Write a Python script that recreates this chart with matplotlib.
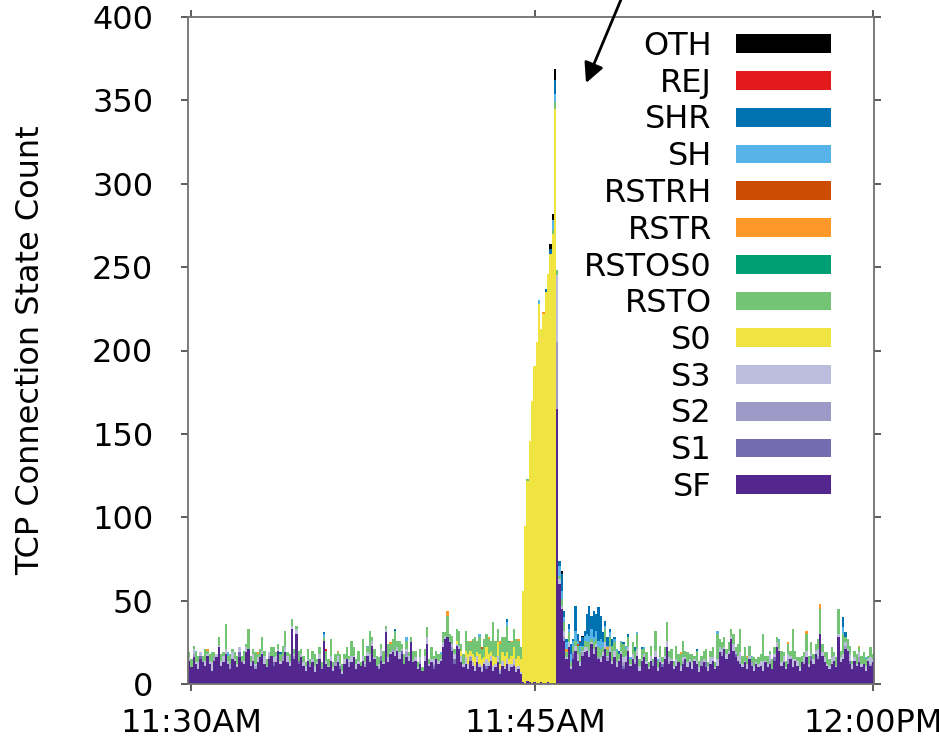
import matplotlib.pyplot as plt
from matplotlib.patches import Patch

# one bar per 6 s sample, 300 samples from 11:30 to 12:00
# rows: 0-49 | 50-99 | 100-145 | 146-160 (spike) | 161-199 | 200-249 | 250-299
sf = [14, 10, 16, 12, 9, 15, 13, 11, 17, 12, 8, 14, 16, 22, 11, 13, 18, 12, 9, 15, 14, 10, 16, 13, 12, 19, 21, 11, 14, 9, 13, 16, 18, 12, 10, 15, 17, 11, 13, 20, 12, 14, 19, 13, 11, 33, 15, 30, 12, 16,
      11, 8, 14, 10, 13, 7, 12, 15, 9, 26, 12, 10, 14, 8, 11, 13, 9, 6, 12, 15, 10, 13, 16, 9, 12, 11, 14, 10, 17, 13, 23, 15, 11, 9, 14, 12, 31, 13, 18, 19, 17, 20, 15, 18, 12, 16, 14, 25, 13, 14,
      9, 12, 8, 14, 24, 11, 13, 9, 15, 12, 14, 22, 27, 28, 25, 20, 12, 23, 21, 13, 10, 12, 9, 14, 11, 8, 13, 10, 7, 12, 9, 11, 14, 8, 10, 13, 6, 11, 9, 12, 8, 10, 11, 7, 9, 6,
      1, 0, 2, 1, 0, 1, 0, 0, 1, 0, 0, 1, 0, 0, 0,
      165, 60, 45, 26, 15, 22, 9, 15, 20, 14, 11, 17, 19, 20, 16, 24, 18, 22, 15, 13, 17, 21, 14, 19, 12, 16, 10, 14, 18, 9, 13, 20, 11, 15, 12, 17, 8, 14, 16,
      12, 9, 14, 11, 16, 8, 13, 10, 15, 22, 12, 14, 9, 11, 13, 8, 12, 15, 10, 13, 9, 14, 12, 7, 11, 13, 10, 8, 12, 14, 9, 11, 19, 17, 21, 15, 18, 27, 20, 16, 14, 12, 10, 13, 9, 15, 11, 8, 12, 10,
      11, 8, 13, 10, 12, 9, 14, 22, 20, 11, 13, 9, 12, 15, 10, 14, 11, 8, 13, 12, 16, 10, 14, 12, 18, 15, 30, 17, 13, 11, 9, 12, 14, 10, 28, 13, 15, 21, 20, 12, 9, 14, 11, 13, 10, 12, 8, 14, 11, 13]

s1 = [0, 0, 0, 0, 0, 2, 0, 0, 0, 0, 0, 0, 0, 0, 0, 0, 0, 0, 0, 0, 0, 0, 3, 0, 0, 0, 0, 0, 0, 0, 0, 0, 0, 0, 0, 0, 0, 2, 0, 0, 0, 0, 0, 0, 0, 0, 0, 0, 2, 0,
      0, 0, 0, 0, 0, 0, 0, 0, 0, 0, 0, 0, 0, 0, 0, 0, 2, 0, 0, 0, 0, 0, 0, 0, 0, 0, 0, 0, 0, 0, 0, 0, 0, 0, 3, 0, 0, 0, 0, 0, 0, 0, 0, 2, 0, 0, 0, 0, 0, 0,
      0, 0, 0, 0, 0, 0, 0, 2, 0, 0, 0, 0, 0, 0, 0, 0, 3, 0, 0, 0, 0, 0, 0, 0, 0, 0, 0, 0, 0, 0, 2, 0, 0, 0, 0, 0, 0, 0, 0, 0, 0, 0, 0, 0, 0, 0,
      0, 0, 0, 0, 0, 0, 0, 0, 0, 0, 0, 0, 0, 0, 0,
      0, 0, 0, 0, 0, 0, 0, 3, 0, 0, 0, 0, 0, 0, 0, 0, 0, 0, 0, 0, 0, 0, 0, 0, 0, 0, 0, 0, 0, 2, 0, 0, 0, 0, 0, 0, 0, 0, 0,
      0, 0, 0, 0, 0, 0, 0, 2, 0, 0, 0, 0, 0, 0, 0, 0, 0, 0, 0, 0, 0, 0, 0, 0, 0, 0, 3, 0, 0, 0, 0, 0, 0, 0, 0, 0, 0, 0, 0, 2, 0, 0, 0, 0, 0, 0, 0, 0, 0, 0,
      0, 0, 0, 0, 0, 0, 2, 0, 0, 0, 0, 0, 0, 0, 0, 0, 0, 0, 0, 0, 0, 0, 3, 0, 0, 0, 0, 0, 0, 0, 0, 0, 0, 0, 0, 0, 0, 0, 0, 2, 0, 0, 0, 0, 0, 0, 0, 0, 0, 0]

s2 = [0, 0, 2, 0, 0, 0, 1, 0, 0, 0, 0, 2, 0, 0, 0, 0, 0, 0, 3, 0, 0, 0, 0, 1, 0, 0, 0, 0, 0, 2, 0, 0, 0, 0, 0, 2, 0, 0, 0, 0, 0, 3, 0, 0, 0, 0, 2, 0, 0, 0,
      0, 0, 0, 2, 0, 0, 0, 0, 1, 0, 0, 0, 0, 0, 2, 0, 0, 0, 0, 0, 3, 0, 0, 0, 0, 0, 0, 2, 0, 0, 0, 0, 0, 1, 0, 0, 0, 0, 0, 2, 0, 0, 0, 0, 0, 3, 0, 0, 0, 0,
      0, 2, 0, 0, 0, 0, 0, 1, 0, 0, 0, 0, 0, 0, 0, 2, 0, 0, 0, 0, 0, 0, 0, 2, 0, 0, 0, 0, 1, 0, 0, 0, 0, 0, 0, 0, 2, 0, 0, 0, 0, 0, 1, 0, 0, 0,
      0, 0, 0, 0, 0, 0, 0, 0, 0, 0, 0, 0, 0, 0, 0,
      40, 0, 0, 2, 0, 0, 0, 1, 0, 0, 0, 2, 0, 0, 0, 0, 0, 0, 1, 0, 0, 0, 2, 0, 0, 0, 0, 0, 0, 2, 0, 0, 0, 0, 1, 0, 0, 0, 0,
      0, 0, 0, 2, 0, 0, 0, 0, 0, 0, 1, 0, 0, 0, 0, 0, 2, 0, 0, 0, 0, 0, 0, 0, 3, 0, 0, 0, 0, 0, 0, 0, 0, 2, 0, 0, 0, 0, 0, 0, 0, 1, 0, 0, 0, 0, 2, 0, 0, 0,
      0, 0, 0, 0, 2, 0, 0, 0, 0, 0, 0, 0, 3, 0, 0, 0, 0, 0, 0, 1, 0, 0, 0, 0, 0, 2, 0, 0, 0, 0, 0, 0, 0, 0, 0, 0, 0, 2, 0, 0, 0, 0, 0, 3, 0, 0, 0, 0, 1, 0]

s3 = [2, 0, 3, 1, 4, 2, 0, 3, 1, 2, 5, 0, 2, 1, 3, 4, 3, 2, 0, 4, 1, 2, 3, 0, 2, 3, 0, 2, 4, 1, 3, 0, 2, 5, 1, 2, 0, 3, 4, 1, 2, 0, 3, 4, 2, 2, 1, 3, 0, 2,
      2, 3, 1, 0, 2, 4, 1, 3, 0, 0, 2, 1, 3, 2, 0, 4, 1, 2, 3, 0, 2, 4, 1, 3, 2, 0, 3, 1, 2, 5, 3, 1, 0, 2, 4, 1, 2, 3, 1, 0, 3, 2, 4, 1, 0, 2, 3, 0, 1, 2,
      1, 2, 0, 3, 4, 1, 2, 3, 0, 2, 1, 3, 2, 0, 1, 2, 3, 1, 2, 4, 2, 4, 3, 1, 2, 3, 4, 2, 3, 1, 4, 2, 3, 3, 2, 4, 1, 3, 2, 3, 4, 2, 3, 3, 2, 1,
      0, 0, 0, 0, 0, 0, 0, 0, 0, 0, 0, 0, 0, 0, 0,
      40, 3, 2, 4, 1, 3, 2, 0, 3, 4, 2, 1, 3, 2, 4, 1, 3, 2, 0, 3, 2, 4, 1, 3, 2, 4, 3, 1, 2, 3, 4, 2, 1, 3, 2, 4, 3, 1, 2,
      2, 1, 3, 0, 4, 2, 3, 1, 2, 4, 3, 1, 2, 4, 0, 3, 2, 1, 3, 2, 4, 1, 2, 3, 0, 2, 1, 3, 4, 2, 1, 4, 3, 2, 1, 3, 2, 2, 4, 1, 3, 6, 2, 1, 3, 2, 0, 3, 1, 2,
      3, 6, 1, 2, 4, 0, 2, 3, 1, 2, 4, 1, 3, 2, 5, 1, 3, 2, 0, 3, 4, 2, 1, 3, 2, 4, 0, 2, 3, 1, 2, 4, 3, 1, 2, 3, 3, 2, 1, 4, 3, 2, 1, 3, 2, 0, 3, 1, 4, 2]

s0 = [0, 0, 0, 0, 0, 0, 0, 0, 0, 0, 0, 0, 0, 0, 0, 0, 0, 0, 0, 0, 0, 0, 0, 0, 0, 0, 0, 0, 0, 0, 0, 0, 0, 0, 0, 0, 0, 0, 0, 0, 0, 0, 0, 0, 0, 0, 0, 0, 0, 0,
      0, 0, 0, 0, 0, 0, 0, 0, 0, 0, 0, 0, 0, 0, 0, 0, 0, 0, 0, 0, 0, 0, 0, 0, 0, 0, 0, 0, 0, 0, 0, 0, 0, 0, 0, 0, 0, 0, 0, 0, 0, 0, 0, 0, 0, 0, 0, 0, 0, 0,
      0, 0, 0, 0, 0, 0, 0, 0, 0, 0, 0, 0, 0, 0, 0, 0, 0, 2, 0, 3, 0, 4, 6, 3, 5, 5, 2, 6, 4, 3, 7, 5, 2, 6, 4, 8, 3, 5, 6, 4, 3, 5, 7, 5, 6, 8,
      55, 95, 120, 145, 170, 190, 205, 228, 212, 222, 235, 245, 258, 270, 345,
      0, 0, 0, 0, 0, 0, 0, 0, 0, 0, 0, 0, 0, 0, 0, 0, 0, 0, 0, 0, 0, 0, 0, 0, 0, 0, 0, 0, 0, 0, 0, 0, 0, 0, 0, 0, 0, 0, 0,
      0, 0, 0, 0, 0, 0, 0, 0, 0, 0, 0, 0, 0, 0, 0, 0, 0, 0, 0, 0, 0, 0, 0, 0, 0, 0, 0, 0, 0, 0, 0, 0, 0, 0, 0, 0, 0, 0, 0, 0, 0, 0, 0, 0, 0, 0, 0, 0, 0, 0,
      0, 0, 0, 0, 0, 0, 0, 0, 0, 0, 0, 0, 0, 0, 0, 0, 0, 0, 0, 0, 0, 0, 0, 0, 0, 0, 0, 0, 0, 0, 0, 0, 0, 0, 0, 0, 0, 0, 0, 0, 0, 0, 0, 0, 0, 0, 0, 0, 0, 0]

rsto = [3, 5, 2, 6, 4, 0, 3, 7, 2, 4, 6, 3, 0, 5, 4, 2, 15, 3, 6, 2, 4, 5, 0, 3, 6, 2, 12, 4, 3, 7, 2, 5, 8, 3, 4, 0, 5, 6, 2, 3, 4, 6, 10, 2, 5, 4, 3, 2, 6, 3,
        4, 2, 6, 3, 5, 7, 2, 4, 3, 2, 6, 4, 10, 3, 5, 2, 6, 4, 3, 7, 2, 9, 5, 3, 6, 2, 10, 4, 3, 14, 2, 5, 6, 4, 3, 7, 2, 8, 5, 6, 12, 4, 7, 3, 6, 5, 2, 3, 6, 4,
        3, 5, 2, 4, 6, 3, 7, 2, 5, 4, 3, 6, 2, 13, 4, 5, 3, 7, 9, 4, 6, 12, 8, 5, 9, 12, 7, 10, 6, 11, 8, 9, 7, 20, 10, 8, 12, 9, 11, 16, 10, 8, 11, 12, 9, 7,
        0, 0, 1, 0, 0, 0, 0, 0, 0, 0, 0, 0, 0, 2, 4,
        3, 2, 4, 5, 3, 6, 2, 4, 3, 5, 6, 2, 4, 3, 5, 2, 4, 3, 6, 5, 3, 8, 4, 6, 9, 5, 7, 3, 5, 8, 4, 6, 3, 7, 5, 9, 4, 6, 3,
        5, 3, 6, 2, 12, 4, 7, 3, 5, 11, 4, 6, 3, 8, 5, 7, 10, 4, 6, 3, 5, 2, 6, 4, 3, 5, 7, 2, 4, 6, 3, 15, 5, 4, 6, 3, 5, 4, 6, 3, 7, 14, 5, 8, 4, 6, 3, 5, 2, 4,
        4, 16, 3, 5, 2, 6, 4, 3, 5, 7, 2, 4, 6, 3, 18, 5, 2, 6, 4, 3, 10, 5, 7, 3, 4, 6, 15, 5, 3, 7, 4, 6, 2, 5, 15, 4, 12, 3, 6, 5, 2, 4, 6, 3, 5, 7, 4, 2, 6, 3]

rstos0 = [0, 0, 0, 0, 0, 0, 0, 0, 0, 0, 0, 0, 0, 0, 0, 0, 0, 0, 0, 0, 0, 0, 0, 0, 0, 0, 0, 0, 0, 0, 0, 0, 0, 0, 0, 0, 0, 0, 0, 0, 0, 0, 0, 0, 0, 0, 0, 0, 0, 0,
          0, 0, 0, 0, 0, 0, 0, 0, 0, 0, 0, 0, 0, 0, 0, 0, 0, 0, 0, 0, 0, 0, 0, 0, 0, 0, 0, 0, 0, 0, 0, 0, 0, 0, 0, 0, 0, 0, 0, 0, 0, 0, 0, 0, 0, 0, 0, 0, 0, 0,
          0, 0, 0, 0, 0, 0, 0, 0, 0, 0, 0, 0, 0, 0, 0, 0, 0, 0, 0, 0, 0, 0, 0, 0, 0, 0, 0, 0, 0, 0, 0, 0, 0, 0, 0, 0, 0, 0, 0, 0, 1, 0, 0, 0, 0, 0,
          0, 0, 0, 0, 0, 0, 0, 0, 0, 0, 0, 0, 0, 0, 0,
          0, 0, 0, 0, 0, 0, 0, 0, 0, 0, 0, 0, 0, 0, 0, 0, 0, 0, 0, 0, 0, 0, 0, 0, 0, 0, 0, 0, 0, 0, 0, 0, 0, 0, 1, 0, 0, 0, 0,
          0, 0, 0, 0, 0, 0, 0, 0, 0, 0, 0, 0, 0, 0, 0, 0, 0, 0, 0, 0, 0, 0, 0, 0, 0, 0, 0, 0, 0, 0, 0, 0, 0, 0, 0, 0, 0, 0, 0, 0, 0, 0, 0, 0, 0, 0, 0, 0, 0, 0,
          0, 0, 0, 0, 0, 0, 0, 0, 0, 0, 0, 0, 0, 0, 0, 0, 0, 0, 0, 0, 0, 0, 0, 0, 0, 0, 0, 0, 0, 0, 0, 0, 0, 0, 0, 0, 0, 0, 0, 0, 0, 0, 0, 0, 0, 0, 0, 0, 0, 0]

rstr = [0, 0, 0, 0, 0, 0, 0, 0, 1, 0, 0, 0, 0, 0, 0, 0, 0, 0, 0, 0, 0, 0, 0, 0, 0, 0, 0, 0, 0, 0, 1, 0, 0, 0, 0, 0, 0, 0, 0, 0, 0, 0, 0, 0, 0, 0, 0, 0, 0, 0,
        0, 0, 0, 0, 0, 0, 0, 0, 0, 0, 0, 0, 0, 0, 0, 1, 0, 0, 0, 0, 0, 0, 0, 0, 0, 0, 0, 0, 0, 0, 0, 0, 0, 0, 0, 0, 0, 0, 1, 0, 0, 0, 0, 0, 0, 0, 0, 0, 0, 0,
        0, 0, 0, 0, 0, 0, 0, 0, 0, 0, 0, 0, 0, 3, 0, 0, 0, 0, 0, 0, 0, 0, 0, 1, 0, 0, 0, 0, 0, 0, 0, 1, 0, 0, 0, 0, 2, 0, 0, 0, 0, 1, 0, 0, 1, 0,
        0, 0, 0, 0, 0, 0, 0, 0, 0, 1, 0, 0, 0, 0, 0,
        0, 0, 0, 0, 2, 0, 0, 0, 0, 0, 0, 0, 0, 0, 0, 0, 0, 0, 0, 0, 0, 0, 1, 0, 0, 0, 0, 0, 0, 0, 0, 0, 0, 0, 0, 0, 0, 0, 0,
        0, 0, 0, 0, 0, 0, 0, 0, 0, 0, 0, 0, 0, 0, 0, 1, 0, 0, 0, 0, 0, 0, 0, 0, 0, 0, 0, 0, 0, 0, 0, 0, 0, 0, 0, 0, 0, 0, 0, 0, 0, 0, 0, 0, 1, 0, 0, 0, 0, 0,
        0, 0, 0, 0, 0, 0, 0, 0, 0, 0, 0, 0, 1, 0, 0, 0, 0, 0, 0, 0, 2, 0, 0, 0, 0, 0, 3, 0, 0, 0, 0, 0, 0, 0, 0, 0, 0, 0, 0, 0, 0, 0, 0, 1, 0, 0, 0, 0, 0, 0]

rstrh = [0, 0, 0, 0, 0, 0, 0, 0, 0, 0, 0, 0, 0, 0, 0, 0, 0, 0, 0, 0, 0, 0, 0, 0, 0, 0, 0, 0, 0, 0, 0, 0, 0, 0, 0, 0, 0, 0, 0, 0, 0, 0, 0, 0, 0, 0, 0, 0, 0, 0,
         0, 0, 0, 0, 0, 0, 0, 0, 0, 0, 0, 0, 0, 0, 0, 0, 0, 0, 0, 0, 0, 0, 0, 0, 0, 0, 0, 0, 0, 0, 0, 0, 0, 0, 0, 0, 0, 0, 0, 0, 0, 0, 0, 0, 0, 0, 0, 0, 0, 0,
         0, 0, 0, 0, 0, 0, 0, 0, 0, 0, 0, 0, 0, 0, 0, 0, 0, 0, 0, 0, 0, 0, 0, 0, 0, 0, 0, 0, 1, 0, 0, 0, 0, 0, 0, 0, 0, 0, 0, 0, 0, 0, 0, 0, 0, 0,
         0, 0, 0, 0, 0, 0, 0, 0, 0, 0, 0, 0, 0, 0, 0,
         0, 0, 0, 0, 0, 0, 0, 0, 0, 1, 0, 0, 0, 0, 0, 0, 0, 0, 0, 0, 0, 0, 0, 0, 0, 0, 0, 0, 0, 0, 0, 0, 0, 0, 0, 0, 0, 0, 0,
         0, 0, 0, 0, 0, 0, 0, 0, 0, 0, 0, 0, 0, 0, 0, 0, 0, 0, 0, 0, 0, 0, 0, 0, 0, 0, 0, 0, 0, 0, 0, 0, 0, 0, 0, 0, 0, 0, 0, 0, 0, 0, 0, 0, 0, 0, 0, 0, 0, 0,
         0, 0, 0, 0, 0, 0, 0, 0, 0, 0, 0, 0, 0, 0, 0, 0, 0, 0, 0, 0, 0, 0, 0, 0, 0, 0, 0, 0, 0, 0, 0, 0, 0, 0, 0, 0, 0, 0, 0, 0, 0, 0, 0, 0, 0, 0, 0, 0, 0, 0]

sh = [0, 0, 0, 1, 0, 0, 0, 0, 0, 0, 0, 0, 0, 0, 0, 0, 0, 2, 0, 0, 0, 0, 0, 0, 0, 0, 0, 0, 0, 0, 0, 0, 0, 0, 0, 0, 0, 0, 0, 0, 0, 0, 0, 0, 0, 0, 0, 0, 0, 0,
      0, 0, 0, 0, 0, 0, 0, 0, 0, 2, 0, 0, 0, 0, 0, 0, 0, 0, 0, 0, 0, 0, 0, 0, 0, 0, 0, 0, 1, 0, 0, 0, 0, 0, 0, 0, 0, 0, 0, 0, 0, 0, 0, 0, 0, 2, 0, 0, 0, 0,
      0, 0, 0, 0, 0, 0, 0, 0, 0, 0, 1, 0, 0, 0, 0, 0, 0, 0, 0, 0, 0, 0, 0, 0, 0, 0, 0, 2, 0, 0, 0, 0, 0, 0, 0, 0, 0, 0, 0, 2, 0, 0, 0, 0, 0, 0,
      0, 0, 0, 0, 0, 0, 0, 2, 0, 0, 0, 0, 0, 6, 5,
      0, 6, 5, 3, 4, 2, 5, 3, 6, 2, 4, 1, 3, 5, 4, 6, 3, 5, 4, 6, 3, 2, 1, 3, 0, 2, 1, 0, 1, 0, 2, 0, 1, 0, 0, 1, 0, 0, 1,
      0, 0, 0, 0, 0, 1, 0, 0, 0, 0, 0, 0, 0, 0, 0, 0, 0, 0, 0, 0, 0, 0, 0, 0, 0, 0, 0, 0, 0, 0, 0, 2, 0, 0, 0, 0, 0, 0, 0, 0, 0, 0, 0, 0, 0, 0, 1, 0, 0, 0,
      0, 0, 0, 0, 0, 0, 0, 0, 1, 0, 0, 0, 0, 0, 0, 0, 0, 0, 0, 0, 0, 0, 0, 0, 0, 0, 0, 0, 0, 0, 0, 0, 0, 0, 0, 0, 4, 0, 0, 0, 0, 0, 0, 0, 0, 0, 1, 0, 0, 0]

shr = [0, 0, 0, 0, 0, 0, 0, 0, 0, 0, 0, 0, 0, 0, 0, 0, 0, 0, 0, 0, 0, 0, 0, 0, 0, 0, 0, 0, 0, 0, 0, 0, 0, 0, 0, 0, 0, 0, 0, 0, 1, 0, 0, 0, 0, 0, 0, 0, 0, 0,
       0, 0, 0, 0, 0, 0, 0, 0, 0, 1, 0, 0, 0, 0, 0, 0, 0, 0, 0, 0, 0, 0, 0, 0, 0, 0, 0, 0, 0, 0, 0, 0, 0, 0, 0, 0, 0, 0, 0, 0, 1, 0, 0, 0, 0, 0, 0, 0, 0, 0,
       0, 0, 0, 0, 0, 0, 0, 0, 0, 0, 0, 0, 0, 0, 0, 0, 0, 0, 0, 0, 0, 0, 0, 0, 0, 0, 0, 0, 0, 0, 0, 0, 0, 0, 0, 0, 0, 0, 0, 2, 0, 0, 0, 0, 0, 0,
       0, 0, 0, 0, 0, 0, 0, 0, 0, 0, 2, 0, 3, 0, 8,
       0, 3, 10, 4, 2, 3, 6, 1, 15, 4, 2, 5, 3, 12, 18, 8, 16, 10, 20, 14, 6, 3, 5, 2, 4, 1, 0, 2, 0, 1, 0, 2, 0, 0, 1, 0, 0, 1, 0,
       0, 0, 0, 0, 0, 0, 0, 0, 0, 0, 0, 0, 0, 0, 0, 0, 0, 0, 0, 0, 0, 0, 1, 0, 0, 0, 0, 0, 0, 0, 0, 0, 0, 0, 0, 0, 0, 0, 0, 0, 0, 0, 0, 0, 0, 0, 0, 0, 0, 0,
       0, 0, 0, 0, 0, 0, 0, 0, 0, 0, 0, 0, 0, 0, 0, 0, 0, 0, 0, 0, 0, 0, 0, 0, 0, 0, 0, 0, 0, 0, 0, 0, 0, 0, 0, 0, 6, 3, 0, 0, 0, 0, 0, 0, 0, 0, 0, 0, 0, 0]

rej = [0, 0, 0, 0, 0, 0, 0, 0, 0, 0, 0, 0, 0, 0, 0, 0, 0, 0, 0, 0, 0, 0, 0, 0, 0, 0, 0, 0, 0, 0, 0, 0, 0, 0, 0, 0, 0, 0, 0, 0, 0, 0, 0, 0, 0, 0, 0, 0, 0, 0,
       0, 0, 0, 0, 0, 0, 0, 0, 0, 0, 1, 0, 0, 0, 0, 0, 0, 0, 0, 0, 0, 0, 0, 0, 0, 0, 0, 0, 0, 0, 0, 0, 0, 0, 0, 0, 0, 0, 0, 0, 0, 0, 0, 0, 0, 0, 0, 0, 0, 0,
       0, 0, 0, 0, 0, 0, 0, 0, 0, 0, 0, 0, 0, 0, 0, 0, 0, 0, 0, 0, 0, 0, 0, 0, 0, 0, 0, 0, 0, 0, 0, 0, 0, 0, 0, 0, 0, 0, 0, 0, 0, 0, 0, 0, 0, 0,
       0, 0, 0, 0, 0, 0, 0, 0, 0, 0, 0, 0, 0, 0, 0,
       0, 0, 0, 0, 0, 0, 0, 0, 0, 0, 1, 0, 0, 0, 0, 0, 0, 0, 0, 0, 0, 0, 0, 0, 0, 0, 0, 0, 0, 0, 0, 0, 0, 0, 0, 0, 0, 0, 0,
       0, 0, 0, 0, 0, 0, 0, 0, 0, 0, 0, 0, 0, 0, 0, 0, 0, 0, 0, 0, 0, 0, 0, 0, 0, 0, 0, 0, 0, 0, 0, 0, 0, 0, 0, 0, 0, 0, 0, 0, 0, 0, 0, 0, 0, 0, 0, 0, 0, 0,
       0, 0, 0, 0, 0, 0, 0, 0, 0, 0, 0, 0, 0, 0, 0, 0, 0, 0, 0, 0, 0, 0, 0, 0, 0, 0, 0, 0, 0, 0, 0, 0, 0, 0, 0, 0, 0, 0, 0, 0, 0, 0, 0, 0, 0, 0, 0, 0, 0, 0]

oth = [0, 0, 0, 0, 0, 0, 0, 0, 0, 0, 0, 0, 0, 0, 0, 0, 0, 0, 0, 0, 0, 0, 0, 0, 0, 0, 0, 0, 0, 0, 0, 0, 0, 0, 0, 0, 0, 0, 0, 0, 0, 0, 0, 0, 0, 0, 0, 0, 0, 0,
       0, 0, 0, 0, 0, 0, 0, 0, 0, 0, 0, 0, 0, 0, 0, 0, 0, 0, 0, 0, 0, 0, 0, 0, 0, 0, 0, 0, 0, 0, 0, 0, 0, 0, 0, 0, 0, 0, 0, 0, 0, 0, 0, 0, 0, 0, 0, 0, 0, 0,
       0, 0, 0, 0, 0, 0, 0, 0, 0, 0, 0, 0, 0, 0, 0, 0, 0, 0, 0, 0, 0, 0, 0, 0, 0, 0, 0, 0, 0, 0, 0, 0, 0, 0, 0, 0, 0, 0, 0, 0, 0, 0, 0, 0, 0, 0,
       0, 0, 0, 0, 0, 0, 0, 0, 0, 0, 0, 0, 3, 4, 7,
       0, 0, 2, 0, 0, 0, 0, 0, 0, 0, 0, 1, 0, 0, 0, 0, 0, 0, 0, 0, 0, 0, 0, 0, 0, 0, 0, 0, 0, 0, 0, 0, 0, 0, 0, 0, 0, 0, 0,
       0, 0, 0, 0, 0, 0, 0, 0, 0, 0, 0, 0, 0, 0, 0, 0, 0, 0, 0, 0, 0, 0, 0, 0, 0, 0, 0, 0, 0, 0, 0, 0, 0, 0, 0, 0, 0, 0, 0, 0, 0, 0, 0, 0, 0, 0, 0, 0, 0, 0,
       0, 0, 0, 0, 0, 0, 0, 0, 0, 0, 0, 0, 0, 0, 0, 0, 0, 0, 0, 0, 0, 0, 0, 0, 0, 0, 0, 0, 0, 0, 0, 0, 0, 0, 0, 0, 0, 0, 0, 0, 0, 0, 0, 0, 0, 0, 0, 0, 0, 0]

# bottom to top
series = [
    ("SF", sf, "#54278f"),
    ("S1", s1, "#756bb1"),
    ("S2", s2, "#9e9ac8"),
    ("S3", s3, "#bcbddc"),
    ("S0", s0, "#f0e442"),
    ("RSTO", rsto, "#74c476"),
    ("RSTOS0", rstos0, "#009e73"),
    ("RSTR", rstr, "#fe9929"),
    ("RSTRH", rstrh, "#cc4c02"),
    ("SH", sh, "#56b4e9"),
    ("SHR", shr, "#0072b2"),
    ("REJ", rej, "#e31a1c"),
    ("OTH", oth, "#000000"),
]

tick_pos = [1.3, 151.9, 299.4]
tick_lab = ["11:30AM", "11:45AM", "12:00PM"]

n = len(sf)
for name, vals, col in series:
    assert len(vals) == n, name

fs = 23
fig = plt.figure(figsize=(9.39, 7.42), dpi=100)
ax = fig.add_axes([188/939, 1 - 684/742, 686/939, 667/742])

x = list(range(n))
bottom = [0] * n
for name, vals, col in series:
    ax.bar(x, vals, width=1.0, bottom=bottom, align="edge", color=col, linewidth=0)
    bottom = [b + v for b, v in zip(bottom, vals)]

ax.set_xlim(0, n)
ax.set_ylim(0, 400)
ax.set_yticks(range(0, 401, 50))
ax.set_xticks(tick_pos)
ax.set_xticklabels(tick_lab)

for s in ax.spines.values():
    s.set_color("#707070")
    s.set_linewidth(1.3)
ax.tick_params(direction="out", length=5, width=1.2, color="#404040",
               top=True, right=True, labelsize=fs)
ax.tick_params(axis="y", pad=20)
ax.tick_params(axis="x", pad=12)

ax.set_ylabel("TCP Connection State Count", fontsize=fs)
ax.yaxis.set_label_coords(-0.207, 0.5)

handles = [Patch(facecolor=col, label=name) for name, vals, col in reversed(series)]
ax.legend(handles=handles, loc="upper right", bbox_to_anchor=(831/939, 1 - 31/742),
          bbox_transform=fig.transFigure, frameon=False, markerfirst=False,
          fontsize=fs, handlelength=2.98, handleheight=0.53, handletextpad=0.75,
          labelspacing=0.18, borderpad=0, borderaxespad=0)

ax.annotate("", xy=(586, 659), xycoords="figure pixels",
            xytext=(625, 752), textcoords="figure pixels",
            arrowprops=dict(arrowstyle="-|>", color="black", lw=2,
                            mutation_scale=30, shrinkA=0, shrinkB=0),
            annotation_clip=False)

fig.savefig("out.png", dpi=100)
